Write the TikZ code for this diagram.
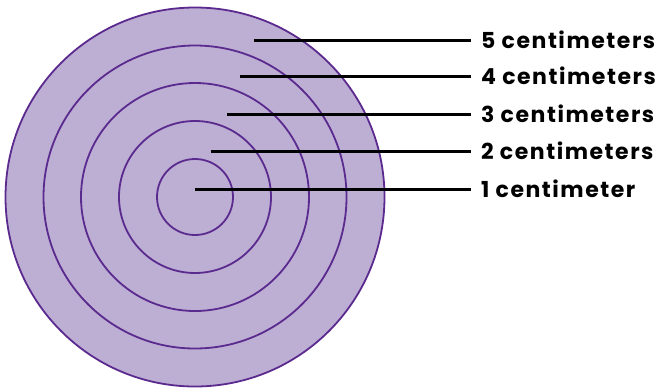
\documentclass[tikz,border=0pt]{standalone}
\usepackage{fontspec}
\setmainfont{Poppins}[LetterSpace=7]
\definecolor{ringfill}{HTML}{BDAED4}
\definecolor{ringline}{HTML}{5B2A8E}
\begin{document}
\begin{tikzpicture}[x=1pt,y=-1pt,
  ring/.style={circle,draw=ringline,line width=1.8pt,inner sep=0pt},
  lbl/.style={anchor=base west,inner sep=0pt,font=\fontsize{22}{22}\selectfont\bfseries},
  leader/.style={line width=3pt,draw=black}]
\useasboundingbox (0,0) rectangle (660,389);
\node[ring,fill=ringfill,minimum size=379pt] (c5) at (195,197) {};
\node[ring,minimum size=303pt] (c4) at (195,197) {};
\node[ring,minimum size=228pt] (c3) at (195,197) {};
\node[ring,minimum size=152pt] (c2) at (195,197) {};
\node[ring,minimum size=76pt] (c1) at (195,197) {};
\coordinate (s5) at (254,40);
\coordinate (s4) at (240,76);
\coordinate (s3) at (227,114);
\coordinate (s2) at (211,151.5);
\coordinate (s1) at (195,189);
\node[lbl] (l5) at (481,48) {5 centimeters};
\node[lbl] (l4) at (481,84) {4 centimeters};
\node[lbl] (l3) at (481,122) {3 centimeters};
\node[lbl] (l2) at (481,159.5) {2 centimeters};
\node[lbl] (l1) at (481,197) {1 centimeter};
\foreach \i in {1,...,5}{
  \draw[leader] (s\i) -- ([xshift=-10pt]l\i.west |- s\i);
}
\end{tikzpicture}
\end{document}
